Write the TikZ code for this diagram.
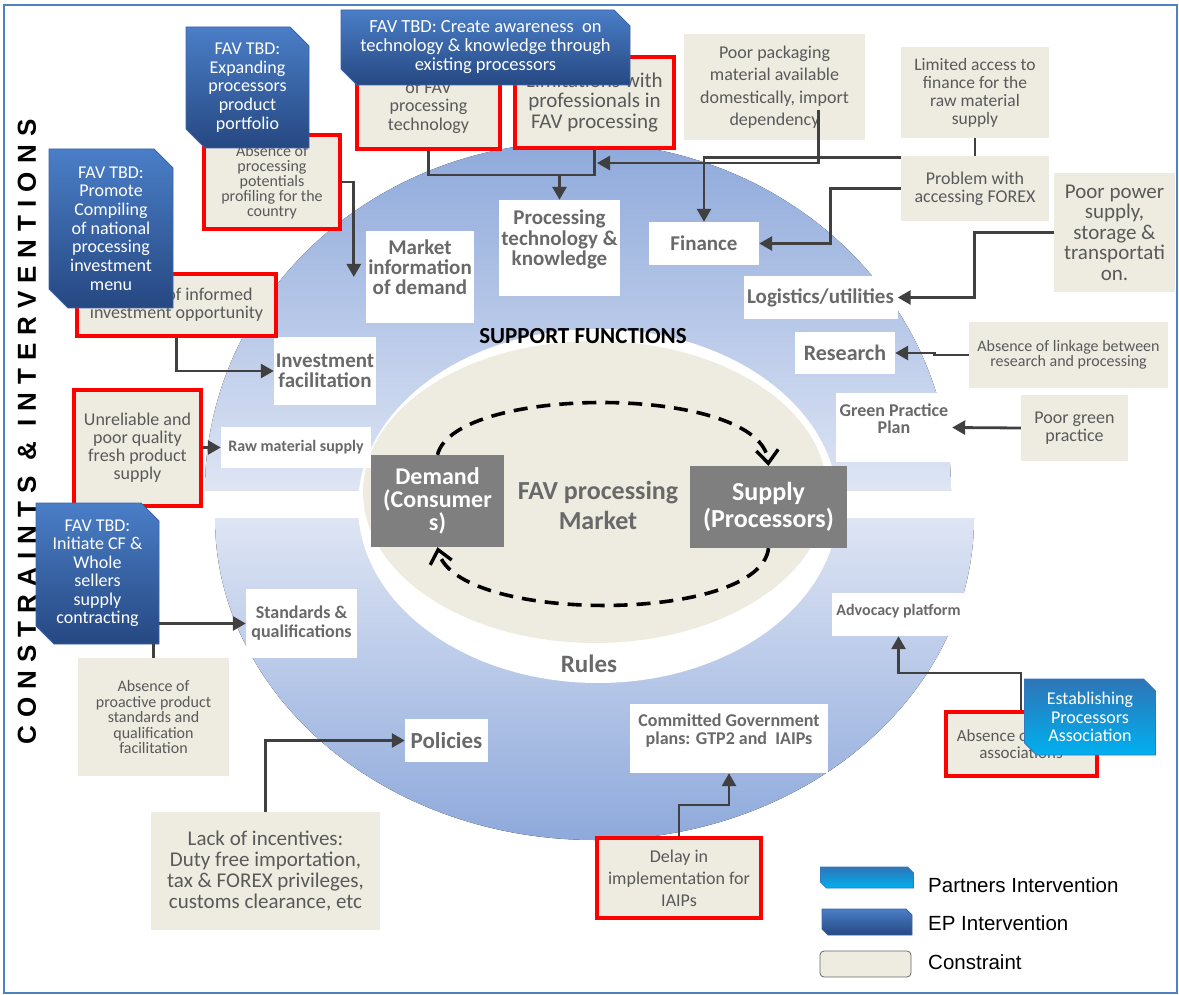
\documentclass[tikz,border=0pt]{standalone}
\usepackage{fontspec}
\setmainfont{Carlito}
\newfontfamily\legendfont{Liberation Sans}
\newfontfamily\sidefont[LetterSpace=31]{Liberation Sans}
\usetikzlibrary{arrows.meta}

\definecolor{beige}{RGB}{238,236,225}
\definecolor{cred}{RGB}{255,0,0}
\definecolor{ctext}{RGB}{89,89,89}
\definecolor{stext}{RGB}{105,105,105}
\definecolor{wirecol}{RGB}{64,64,64}
\definecolor{ringdark}{RGB}{142,169,219}
\definecolor{ringlight}{RGB}{222,229,244}
\definecolor{epTop}{RGB}{74,126,199}
\definecolor{epBot}{RGB}{38,72,130}
\definecolor{epLine}{RGB}{60,100,170}
\definecolor{ptTop}{RGB}{46,117,182}
\definecolor{ptBot}{RGB}{0,176,240}
\definecolor{ptLine}{RGB}{50,120,190}
\definecolor{mktgray}{RGB}{127,127,127}
\definecolor{frameblue}{RGB}{79,129,189}

\tikzset{
  constraint/.style 2 args={fill=beige, text=ctext, align=center, inner sep=0pt, font=\fontsize{#1}{#2}\selectfont},
  redbox/.style 2 args={constraint={#1}{#2}, draw=cred, line width=4pt},
  sfbox/.style 2 args={fill=white, text=stext, align=center, inner sep=0pt, font=\bfseries\fontsize{#1}{#2}\selectfont},
  actor/.style 2 args={fill=mktgray, text=white, align=center, inner sep=0pt, font=\bfseries\fontsize{#1}{#2}\selectfont},
  boxtext/.style 2 args={text=white, align=center, inner sep=0pt, font=\fontsize{#1}{#2}\selectfont},
  eppath/.style={top color=epTop, bottom color=epBot, draw=epLine, line width=0.8pt},
  ptpath/.style={top color=ptTop, bottom color=ptBot, draw=ptLine, line width=0.8pt},
  link/.style={draw=wirecol, line width=2.8pt},
  linkarr/.style={link, -{Triangle[length=13pt,width=14pt]}},
  cycleline/.style={draw=black, line width=3.6pt, dash pattern=on 14pt off 9pt, -{Straight Barb[length=13pt,width=22pt,line width=3.4pt]}},
  legendtxt/.style={anchor=west, inner sep=0pt, font=\legendfont\fontsize{20.5}{22}\selectfont},
  sidetitle/.style={inner sep=0pt, font=\sidefont\bfseries\fontsize{26}{26}\selectfont},
}

% snipped box: fill style, node style, name, cx, cy, w, h, snip, text
\newcommand{\snipbox}[9]{%
  \path[#1] ({#4-#6/2},{#5-#7/2}) -- ({#4+#6/2-#8},{#5-#7/2}) -- ({#4+#6/2},{#5-#7/2+#8})
    -- ({#4+#6/2},{#5+#7/2}) -- ({#4-#6/2+#8},{#5+#7/2}) -- ({#4-#6/2},{#5+#7/2-#8}) -- cycle;
  \node[#2, minimum width=#6pt, minimum height=#7pt] (#3) at (#4,#5) {#9};}

\begin{document}
\begin{tikzpicture}[x=1pt,y=-1pt]
\useasboundingbox (0,0) rectangle (1179,995);
\draw[frameblue, line width=1.5pt] (4,5) rectangle (1177,993);

% rings
\fill[top color=ringdark, bottom color=ringlight] (205,490) arc[start angle=180, end angle=360, x radius=373, y radius=348] -- cycle;
\fill[top color=ringlight, bottom color=ringdark] (215,518) arc[start angle=180, end angle=0, x radius=379.5, y radius=322] -- cycle;
\fill[white] (598,506) ellipse[x radius=240, y radius=177];
\fill[beige] (595,492) ellipse[x radius=232, y radius=151];

% market core
\node[inner sep=0pt, font=\bfseries\fontsize{23}{24}\selectfont] (suppfn) at (583,336) {SUPPORT FUNCTIONS};
\node[inner sep=0pt, text=stext, font=\bfseries\fontsize{25}{27}\selectfont] (rules) at (589,664) {Rules};
\node[inner sep=0pt, text=stext, align=center, font=\bfseries\fontsize{26}{30}\selectfont] (market) at (598,505) {FAV processing\\Market};
\node[actor={24}{23}, minimum width=133pt, minimum height=92pt] (demand) at (437.5,501) {Demand\\(Consumer\\s)};
\node[actor={26}{27}, minimum width=157pt, minimum height=82pt] (supply) at (768.5,507) {Supply\\(Processors)};
\draw[cycleline] (demand.north) .. controls (455,384) and (762,384) .. (supply.north);
\draw[cycleline] (supply.south) .. controls (760,624) and (455,624) .. (demand.south);

% support functions
\node[sfbox={21}{20}, minimum width=108pt, minimum height=92pt] (mkt) at (420,277) {Market\\information\\of demand\\\mbox{}};
\node[sfbox={21}{20.5}, minimum width=121pt, minimum height=96pt] (proc) at (559.5,248) {Processing\\technology \&\\knowledge\\\mbox{}};
\node[sfbox={21}{21}, minimum width=110pt, minimum height=43pt] (finance) at (704,243.5) {Finance};
\node[sfbox={21}{21}, minimum width=154pt, minimum height=43pt] (logistics) at (820.5,297.5) {Logistics/utilities};
\node[sfbox={21}{20}, minimum width=102pt, minimum height=68pt] (investfac) at (325,371) {Investment\\facilitation};
\node[sfbox={16}{17}, minimum width=150pt, minimum height=41pt] (raw) at (296,447.5) {Raw material supply};
\node[sfbox={22}{22}, minimum width=100pt, minimum height=42pt] (research) at (845,353) {Research};
\node[sfbox={18}{17}, minimum width=116pt, minimum height=69pt] (greenplan) at (894,427.5) {Green Practice\\Plan\\\mbox{}};
\node[sfbox={18}{19}, minimum width=111pt, minimum height=69pt] (standards) at (301.5,623.5) {Standards \&\\qualifications};
\node[sfbox={16}{10}, minimum width=133pt, minimum height=43pt] (advocacy) at (898.5,614.5) {Advocacy platform\\\mbox{}};
\node[sfbox={23}{23}, minimum width=83pt, minimum height=43pt] (policies) at (446.5,740.5) {Policies};
\node[sfbox={18}{18}, minimum width=198pt, minimum height=69pt] (committed) at (729,738.5) {Committed Government\\plans: GTP2 and\ \ IAIPs\\\mbox{}};

% constraints
\node[redbox={16}{15}, minimum width=136pt, minimum height=94pt] (profile) at (272,182) {Absence of\\processing\\potentials\\profiling for the\\country};
\node[redbox={18}{18.5}, minimum width=143pt, minimum height=90pt] (tech) at (428.5,104) {\mbox{}\\of FAV\\processing\\technology};
\node[redbox={21}{20.5}, minimum width=159pt, minimum height=91pt] (limits) at (594.5,102.5) {Limitations with\\professionals in\\FAV processing};
\node[constraint={18}{22.5}, minimum width=181pt, minimum height=106pt] (packaging) at (774.5,87) {Poor packaging\\material available\\domestically, import\\dependency};
\node[constraint={17.5}{18}, minimum width=148pt, minimum height=91pt] (limited) at (975,92.5) {Limited access to\\finance for the\\raw material\\supply};
\node[constraint={18}{18}, minimum width=148pt, minimum height=65pt] (forex) at (975,188.5) {Problem with\\accessing FOREX};
\node[constraint={21}{20.5}, minimum width=121pt, minimum height=119pt] (power) at (1114.5,232.5) {Poor power\\supply,\\storage \&\\transportati\\on.};
\node[constraint={16}{15}, minimum width=199pt, minimum height=65pt] (linkage) at (1068.5,355) {Absence of linkage between\\research and processing};
\node[constraint={18}{18}, minimum width=107pt, minimum height=66pt] (poorgreen) at (1074.5,428) {Poor green\\practice};
\node[redbox={18}{18}, minimum width=199pt, minimum height=62pt] (invest) at (176.5,305) {\phantom{Absence} of informed\\investment opportunity};
\node[redbox={18}{18}, minimum width=127pt, minimum height=116pt] (unreliable) at (137.5,448) {Unreliable and\\poor quality\\fresh product\\supply};
\node[constraint={16}{15.5}, minimum width=151pt, minimum height=118pt] (proactive) at (153.5,717) {Absence of\\proactive product\\standards and\\qualification\\facilitation};
\node[constraint={21}{20.7}, minimum width=229pt, minimum height=118pt] (incentives) at (265.5,871) {Lack of incentives:\\Duty free importation,\\tax \& FOREX privileges,\\customs clearance, etc};
\node[redbox={18}{22}, minimum width=164pt, minimum height=80pt] (delay) at (679,878) {Delay in\\implementation for\\IAIPs};
\node[redbox={17}{17}, minimum width=151pt, minimum height=64pt] (assoc) at (1021,744) {Absence of\hspace*{52pt}\\associations};

% interventions
\snipbox{eppath}{boxtext={18}{18.7}}{portfolio}{247.5}{87.5}{123}{121}{19}{FAV TBD:\\Expanding\\processors\\product\\portfolio}
\snipbox{eppath}{boxtext={18.5}{19}}{awareness}{485.5}{47.5}{289}{75}{16}{FAV TBD: Create awareness\ \ on\\technology \& knowledge through\\existing processors}
\snipbox{eppath}{boxtext={18}{18.7}}{menu}{111}{228.5}{124}{159}{19}{FAV TBD:\\Promote\\Compiling\\of national\\processing\\investment\\menu}
\snipbox{eppath}{boxtext={18}{18.5}}{cf}{97.5}{573.5}{123}{141}{18}{FAV TBD:\\Initiate CF \&\\Whole\\sellers\\supply\\contracting}
\snipbox{ptpath}{boxtext={18}{18.5}}{partner}{1090}{717}{131}{76}{12}{Establishing\\Processors\\Association}

% connectors
\coordinate (techjoin) at (594.5,175);
\coordinate (pkgtip) at (597,163);
\draw[linkarr] (profile.east) -| ([xshift=-12pt]mkt.west);
\draw[link] (tech.south) |- (techjoin) -- (limits.south);
\draw[linkarr] (proc.north |- techjoin) -- (proc.north);
\draw[linkarr] (packaging.center) ++(44,23) |- (pkgtip);
\draw[link] (limited.south) -- (forex.north);
\draw[linkarr] ([yshift=-2pt]forex.north west) -| (finance.north);
\draw[linkarr] (forex.west) -- ++(-70,0) |- (finance.east);
\draw[linkarr] (power.west) -- ++(-79,0) |- (logistics.east);
\draw[linkarr] (linkage.west) -- ++(-34,0) |- (research.east);
\draw[linkarr] (poorgreen.west) -- (greenplan.east);
\draw[linkarr] (invest.south) |- (investfac.west);
\draw[linkarr] (unreliable.east |- raw.west) -- (raw.west);
\draw[linkarr] (cf.east |- standards.west) -- (standards.west);
\draw[link] (cf.south -| proactive.north) -- (proactive.north);
\draw[linkarr] (incentives.north) |- (policies.west);
\draw[linkarr] (delay.north) -- ++(0,-31) -| (committed.south);
\draw[linkarr] (assoc.north) -- ++(0,-37) -| (advocacy.south);

% legend
\snipbox{ptpath}{boxtext={10}{10}}{keypt}{867}{877.5}{93}{21}{6}{}
\snipbox{eppath}{boxtext={10}{10}}{keyep}{867}{922}{90}{26}{6}{}
\node[fill=beige, draw=gray!80!black, line width=0.8pt, rounded corners=4pt, minimum width=91pt, minimum height=26pt, inner sep=0pt] (keyco) at (865.5,964) {};
\node[legendtxt] (keyptlbl) at (928,885) {Partners Intervention};
\node[legendtxt] (keyeplbl) at (928,923) {EP Intervention};
\node[legendtxt] (keycolbl) at (928,962) {Constraint};

\node[sidetitle, rotate=90] (side) at (27,432) {CONSTRAINTS \& INTERVENTIONS};
\end{tikzpicture}
\end{document}
